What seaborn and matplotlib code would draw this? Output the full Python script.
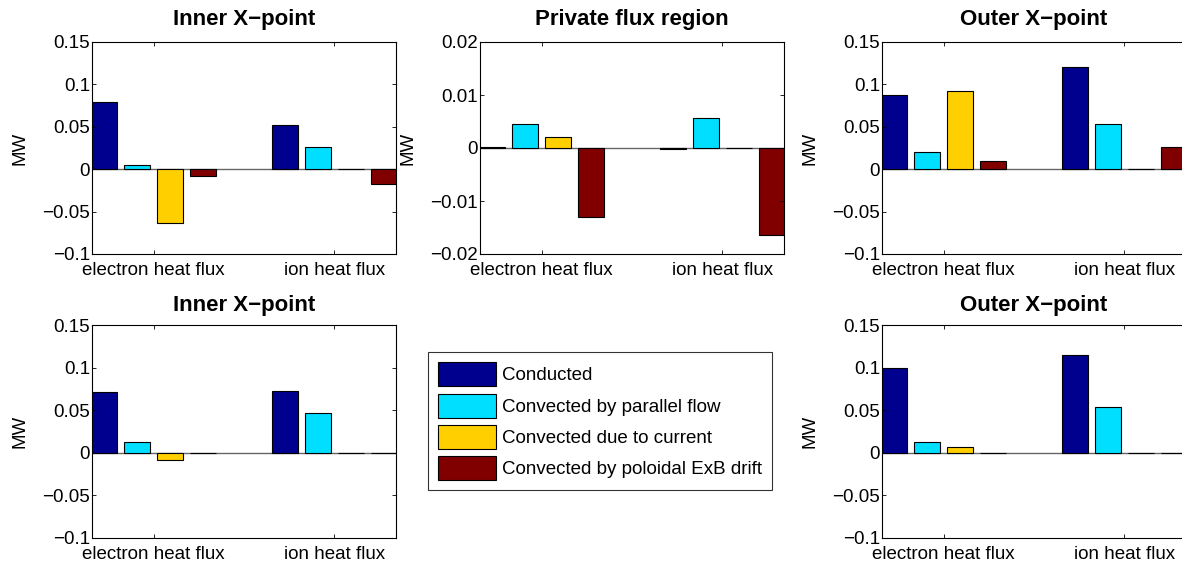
import matplotlib
matplotlib.use("Agg")
import matplotlib.pyplot as plt
import matplotlib.patches as mpatches
import seaborn as sns
import pandas as pd

# Categories
fluxes = ["electron heat flux", "ion heat flux"]
components = [
    "Conducted",
    "Convected by parallel flow",
    "Convected due to current",
    "Convected by poloidal ExB drift",
]
colores = ["#00008F", "#00DFFF", "#FFCF00", "#800000"]

# Values (MW), one list per flux type and panel, in component order
inner_sup_electron = [0.079, 0.0055, -0.063, -0.0086]
inner_sup_ion = [0.052, 0.026, 0.0, -0.017]
private_electron = [0.0001, 0.0045, 0.0021, -0.0130]
private_ion = [-0.0002, 0.0056, 0.0, -0.0164]
outer_sup_electron = [0.088, 0.0205, 0.092, 0.0095]
outer_sup_ion = [0.121, 0.053, 0.0, 0.026]
inner_inf_electron = [0.0715, 0.0125, -0.009, 0.0]
inner_inf_ion = [0.0725, 0.0465, 0.0, 0.0]
outer_inf_electron = [0.0995, 0.0125, 0.0065, 0.0]
outer_inf_ion = [0.1145, 0.0535, 0.0, 0.0]

ticks_xpoint = [-0.1, -0.05, 0, 0.05, 0.1, 0.15]
ticks_private = [-0.02, -0.01, 0, 0.01, 0.02]

FS_TICK = 13.5
FS_TITLE = 16
plt.rcParams["font.family"] = ["Liberation Sans", "DejaVu Sans"]


def armar_df(electron, ion):
    filas = []
    for flux, vals in zip(fluxes, [electron, ion]):
        for comp, v in zip(components, vals):
            filas.append({"flux": flux, "component": comp, "value": v})
    return pd.DataFrame(filas)


def fmt_tick(v):
    return f"{round(v, 6) + 0.0:g}".replace("-", "\u2212")


def dibujar_panel(ax, electron, ion, titulo, yticks, title_pad):
    df = armar_df(electron, ion)
    ax.axhline(0, color="#666666", linewidth=1.0, zorder=0.5)
    sns.barplot(
        data=df, x="flux", y="value", hue="component",
        order=fluxes, hue_order=components, palette=colores,
        saturation=1, width=0.727, gap=0.2, errorbar=None,
        edgecolor="black", linewidth=0.8, legend=False, ax=ax,
    )
    ax.set_xlim(-0.34, 1.34)
    ax.set_ylim(yticks[0], yticks[-1])
    ax.set_yticks(yticks)
    ax.set_yticklabels([fmt_tick(t) for t in yticks])
    ax.set_xticks([0, 1])
    ax.set_xticklabels(fluxes)
    ax.tick_params(direction="in", top=True, right=True, length=3,
                   width=0.6, labelsize=FS_TICK, colors="black")
    ax.tick_params(axis="y", pad=1.5)
    ax.tick_params(axis="x", pad=6)
    ax.set_xlabel("")
    ax.set_ylabel("MW", fontsize=FS_TICK)
    ax.yaxis.set_label_coords(-0.21, 0.5)
    ax.set_title(titulo, fontsize=FS_TITLE, fontweight="bold", pad=title_pad)
    for s in ax.spines.values():
        s.set_linewidth(0.8)
        s.set_color("black")
        s.set_visible(True)


W, H = 1182, 567
fig = plt.figure(figsize=(W / 100, H / 100), dpi=100)
fig.patch.set_facecolor("white")


def pos(x0, y_top, w, h):
    return [x0 / W, 1 - (y_top + h) / H, w / W, h / H]


ax1 = fig.add_axes(pos(92, 42, 304, 212))
ax2 = fig.add_axes(pos(480, 42, 304, 212))
ax3 = fig.add_axes(pos(882, 42, 304, 212))
ax4 = fig.add_axes(pos(92, 325, 304, 213))
ax5 = fig.add_axes(pos(882, 325, 304, 213))

dibujar_panel(ax1, inner_sup_electron, inner_sup_ion, "Inner X\u2212point", ticks_xpoint, 12.5)
dibujar_panel(ax2, private_electron, private_ion, "Private flux region", ticks_private, 12.5)
dibujar_panel(ax3, outer_sup_electron, outer_sup_ion, "Outer X\u2212point", ticks_xpoint, 12.5)
dibujar_panel(ax4, inner_inf_electron, inner_inf_ion, "Inner X\u2212point", ticks_xpoint, 10)
dibujar_panel(ax5, outer_inf_electron, outer_inf_ion, "Outer X\u2212point", ticks_xpoint, 10)

# Leyenda en el hueco central
handles = [mpatches.Patch(facecolor=c, edgecolor="black", linewidth=0.8, label=l)
           for c, l in zip(colores, components)]
leg = fig.legend(
    handles=handles, loc="upper left", bbox_to_anchor=(428 / W, 1 - 352 / H),
    borderaxespad=0, fontsize=FS_TICK, frameon=True, fancybox=False,
    handlelength=3.1, handleheight=1.6, labelspacing=0.38,
    handletextpad=0.3, borderpad=0.55,
)
leg.get_frame().set_edgecolor("black")
leg.get_frame().set_linewidth(0.8)

fig.savefig("out.png", dpi=100, facecolor="white")
